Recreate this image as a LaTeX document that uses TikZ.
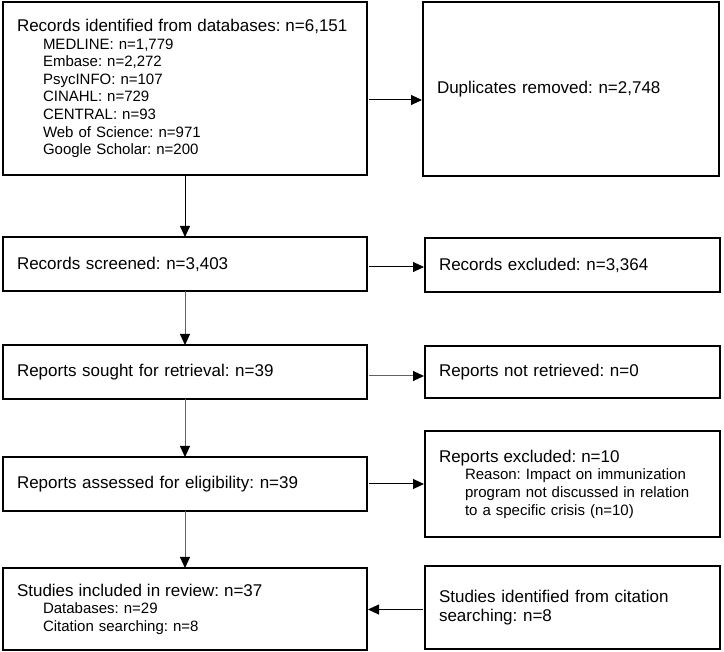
\documentclass[tikz,border=0pt]{standalone}
\usepackage{fontspec}
\setmainfont{Liberation Sans}
\usetikzlibrary{arrows.meta}
\frenchspacing
\newcommand\hdl[1]{{\fontsize{17}{17.6}\selectfont #1}}
\newcommand\subl[1]{\\\hspace*{26pt}#1}
\begin{document}
\frenchspacing
\begin{tikzpicture}[x=1pt,y=1pt,
  box/.style={draw=black, line width=2pt, rectangle, anchor=north west,
    outer sep=0pt, inner xsep=14pt, inner ysep=0pt, align=left,
    font=\fontsize{17}{19}\selectfont\frenchspacing},
  multi/.style={font=\fontsize{15}{17.6}\selectfont\frenchspacing},
  lbox/.style={box, text width=336pt},
  rbox/.style={box, text width=267pt},
  arr/.style={draw=black, line width=1pt, -{Triangle[length=11pt,width=10pt]}},
  garr/.style={arr, draw=black!62, -{Triangle[length=11pt,width=10pt,fill=black,color=black]}},
  side/.style={shorten <=2pt, shorten >=1pt}]
\useasboundingbox (0,0) rectangle (724,-652);

\node[lbox, multi, minimum height=173pt] (b1) at (3,-2)
  {\hdl{Records identified from databases: n=6,151}%
   \subl{MEDLINE: n=1,779}\subl{Embase: n=2,272}\subl{PsycINFO: n=107}%
   \subl{CINAHL: n=729}\subl{CENTRAL: n=93}\subl{Web of Science: n=971}%
   \subl{Google Scholar: n=200}};
\node[box, text width=268pt, minimum height=174pt] (b2) at (423,-2)
  {Duplicates removed: n=2,748};

\node[lbox, minimum height=54pt] (b3) at (3,-237) {Records screened: n=3,403};
\node[rbox, minimum height=54pt] (b4) at (425,-238) {Records excluded: n=3,364};

\node[lbox, minimum height=54pt] (b5) at (3,-345) {Reports sought for retrieval: n=39};
\node[rbox, minimum height=52pt] (b6) at (425,-346) {Reports not retrieved: n=0};

\node[lbox, minimum height=54pt] (b7) at (3,-457) {Reports assessed for eligibility: n=39};
\node[rbox, multi, minimum height=106pt] (b8) at (425,-431)
  {\hdl{Reports excluded: n=10}%
   \subl{Reason: Impact on immunization}%
   \subl{program not discussed in relation}%
   \subl{to a specific crisis (n=10)}};

\node[lbox, multi, minimum height=82pt] (b9) at (3,-568)
  {\hdl{Studies included in review: n=37}%
   \subl{Databases: n=29}\subl{Citation searching: n=8}};
\node[rbox, minimum height=83pt] (b10) at (425,-566)
  {Studies identified from citation\\searching: n=8};

\draw[arr] (b1.south) -- (b3.north);
\draw[garr] (b3.south) -- (b5.north);
\draw[garr] (b5.south) -- (b7.north);
\draw[garr] (b7.south) -- (b9.north);

\draw[arr, side] ([yshift=-11.5pt]b1.east) -- ([yshift=-11.5pt]b1.east -| b2.west);
\draw[arr, side] ([yshift=-3pt]b3.east) -- ([yshift=-3pt]b3.east -| b4.west);
\draw[garr, side] ([yshift=-4pt]b5.east) -- ([yshift=-4pt]b5.east -| b6.west);
\draw[arr, side] (b7.east) -- (b7.east -| b8.west);
\draw[arr, side] ([yshift=-2pt]b10.west) -- ([yshift=-2pt]b10.west -| b9.east);
\end{tikzpicture}
\end{document}
